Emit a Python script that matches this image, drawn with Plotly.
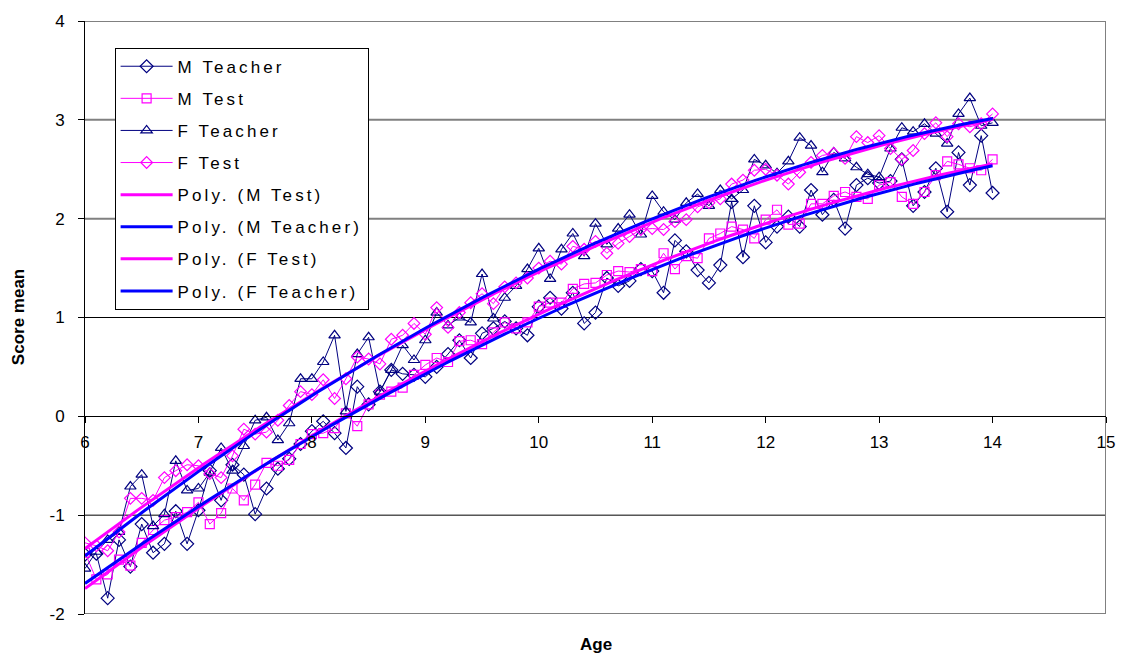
import numpy as np
import plotly.graph_objects as go

ages = [6.0, 6.1, 6.2, 6.3, 6.4, 6.5, 6.6, 6.7, 6.8, 6.9,
        7.0, 7.1, 7.2, 7.3, 7.4, 7.5, 7.6, 7.7, 7.8, 7.9,
        8.0, 8.1, 8.2, 8.3, 8.4, 8.5, 8.6, 8.7, 8.8, 8.9,
        9.0, 9.1, 9.2, 9.3, 9.4, 9.5, 9.6, 9.7, 9.8, 9.9,
        10.0, 10.1, 10.2, 10.3, 10.4, 10.5, 10.6, 10.7, 10.8, 10.9,
        11.0, 11.1, 11.2, 11.3, 11.4, 11.5, 11.6, 11.7, 11.8, 11.9,
        12.0, 12.1, 12.2, 12.3, 12.4, 12.5, 12.6, 12.7, 12.8, 12.9,
        13.0, 13.1, 13.2, 13.3, 13.4, 13.5, 13.6, 13.7, 13.8, 13.9,
        14.0]

m_teacher = [-1.40, -1.39, -1.84, -1.25, -1.52, -1.09, -1.38, -1.29, -0.96, -1.29,
             -0.95, -0.55, -0.85, -0.49, -0.59, -0.99, -0.73, -0.53, -0.43, -0.28,
             -0.15, -0.05, -0.17, -0.32, 0.30, 0.12, 0.25, 0.47, 0.43, 0.42,
             0.40, 0.50, 0.63, 0.77, 0.59, 0.84, 0.89, 0.96, 0.89, 0.82,
             1.11, 1.20, 1.09, 1.25, 0.94, 1.05, 1.40, 1.32, 1.37, 1.49,
             1.47, 1.25, 1.78, 1.67, 1.48, 1.35, 1.53, 2.17, 1.61, 2.13,
             1.76, 1.92, 2.02, 1.92, 2.29, 2.04, 2.19, 1.90, 2.34, 2.41,
             2.36, 2.38, 2.60, 2.13, 2.27, 2.51, 2.07, 2.67, 2.34, 2.84,
             2.26]

m_test = [-1.38, -1.65, -1.60, -1.45, -1.51, -1.28, -1.15, -1.05, -1.02, -0.97,
          -0.87, -1.09, -0.98, -0.73, -0.85, -0.69, -0.47, -0.50, -0.44, -0.28,
          -0.18, -0.17, -0.12, 0.03, -0.10, 0.12, 0.22, 0.25, 0.29, 0.42,
          0.52, 0.59, 0.55, 0.76, 0.77, 0.73, 0.85, 0.95, 0.89, 0.95,
          1.11, 1.15, 1.15, 1.29, 1.34, 1.35, 1.43, 1.47, 1.46, 1.49,
          1.47, 1.65, 1.49, 1.62, 1.60, 1.80, 1.85, 1.92, 1.89, 1.80,
          1.99, 2.09, 1.94, 1.95, 2.15, 2.15, 2.23, 2.27, 2.22, 2.20,
          2.34, 2.37, 2.22, 2.15, 2.27, 2.44, 2.58, 2.55, 2.51, 2.49,
          2.60]

f_teacher = [-1.54, -1.37, -1.25, -1.17, -0.71, -0.59, -1.11, -0.99, -0.45, -0.75,
             -0.73, -0.57, -0.32, -0.55, -0.30, -0.04, -0.01, -0.24, -0.07, 0.38,
             0.38, 0.55, 0.82, 0.05, 0.63, 0.80, 0.25, 0.47, 0.72, 0.57,
             0.77, 1.05, 0.92, 1.00, 0.95, 1.44, 0.99, 1.20, 1.32, 1.49,
             1.70, 1.39, 1.69, 1.85, 1.62, 1.95, 1.74, 1.90, 2.04, 1.84,
             2.23, 2.07, 1.99, 2.16, 2.25, 2.13, 2.29, 2.20, 2.29, 2.60,
             2.54, 2.46, 2.58, 2.82, 2.74, 2.47, 2.67, 2.61, 2.52, 2.45,
             2.42, 2.71, 2.92, 2.88, 2.96, 2.86, 2.76, 3.06, 3.22, 2.94,
             2.97]

f_test = [-1.28, -1.31, -1.36, -1.17, -0.83, -0.83, -0.85, -0.62, -0.55, -0.49,
          -0.50, -0.58, -0.62, -0.40, -0.13, -0.18, -0.16, -0.04, 0.11, 0.25,
          0.22, 0.37, 0.18, 0.38, 0.60, 0.58, 0.53, 0.78, 0.82, 0.94,
          0.83, 1.10, 0.90, 1.05, 1.15, 1.24, 1.14, 1.31, 1.35, 1.40,
          1.50, 1.57, 1.54, 1.72, 1.69, 1.77, 1.65, 1.75, 1.82, 1.89,
          1.90, 1.89, 1.97, 1.99, 2.12, 2.16, 2.20, 2.35, 2.39, 2.49,
          2.50, 2.44, 2.35, 2.47, 2.57, 2.64, 2.66, 2.61, 2.83, 2.77,
          2.84, 2.71, 2.60, 2.69, 2.86, 2.97, 2.83, 2.96, 2.93, 2.96,
          3.06]

y_ticks = [-2, -1, 0, 1, 2, 3, 4]
x_ticks = [6, 7, 8, 9, 10, 11, 12, 13, 14, 15]

NAVY = "#000080"
MAGENTA = "#FF00FF"
BLUE = "#0000FF"
FONT = "Liberation Sans, Arial, sans-serif"


def lbl(s):
    return f'<span style="letter-spacing:3.1px">{s}</span>'


fig = go.Figure()

series = [
    ("M Teacher", m_teacher, NAVY, "diamond-open", 10),
    ("M Test", m_test, MAGENTA, "square-open", 9),
    ("F Teacher", f_teacher, NAVY, "triangle-up-open", 10),
    ("F Test", f_test, MAGENTA, "diamond-open", 9),
]
for i, (name, vals, col, sym, sz) in enumerate(series):
    fig.add_trace(go.Scatter(
        x=ages, y=vals, mode="lines+markers", name=lbl(name),
        line=dict(color=col, width=1),
        marker=dict(symbol=sym, size=sz, color=col, line=dict(width=1.2, color=col)),
        legendgroup=f"g{i}", showlegend=True,
    ))

xa = np.array(ages)
xs = np.linspace(xa.min(), xa.max(), 200)
trends = [
    ("Poly. (M Test)", m_test, MAGENTA),
    ("Poly. (M Teacher)", m_teacher, BLUE),
    ("Poly. (F Test)", f_test, MAGENTA),
    ("Poly. (F Teacher)", f_teacher, BLUE),
]
for j, (name, vals, col) in enumerate(trends):
    coef = np.polyfit(xa, np.array(vals), 2)
    fig.add_trace(go.Scatter(
        x=xs, y=np.polyval(coef, xs), mode="lines", name=lbl(name),
        line=dict(color=col, width=3),
        legendgroup=f"t{j}", hoverinfo="skip",
    ))

shapes = []
for yv, c, w in [(1, "#000000", 1), (-1, "#000000", 1), (2, "#808080", 2), (3, "#808080", 2),
                 (4, "#808080", 2), (-2, "#808080", 2)]:
    shapes.append(dict(type="line", xref="x", yref="y", x0=6, x1=15, y0=yv, y1=yv,
                       line=dict(color=c, width=w), layer="below"))
shapes.append(dict(type="line", xref="x", yref="y", x0=15, x1=15, y0=-2, y1=4,
                   line=dict(color="#808080", width=2), layer="below"))

fig.update_layout(
    width=1127, height=662, autosize=False,
    margin=dict(l=85, r=14, t=15, b=48),
    paper_bgcolor="white", plot_bgcolor="white",
    font=dict(family=FONT, color="black", size=16),
    showlegend=True,
    legend=dict(
        x=0.029, y=0.955, xanchor="left", yanchor="top",
        bgcolor="white", bordercolor="black", borderwidth=1,
        font=dict(family=FONT, size=17, color="black"),
        itemwidth=52, tracegroupgap=7,
    ),
    xaxis=dict(
        range=[6, 15], tickvals=x_ticks, ticktext=[str(v) for v in x_ticks],
        anchor="free", position=1/3,
        showline=True, linecolor="black", linewidth=1,
        ticks="outside", ticklen=6, tickcolor="black",
        showgrid=False, zeroline=False, ticklabelstandoff=4,
        tickfont=dict(family=FONT, size=17, color="black"),
    ),
    yaxis=dict(
        range=[-2, 4], tickvals=y_ticks, ticktext=[str(v) for v in y_ticks],
        showline=True, linecolor="black", linewidth=1,
        ticks="outside", ticklen=6, tickcolor="black",
        showgrid=False, zeroline=True, zerolinecolor="black", zerolinewidth=1,
        ticklabelstandoff=10,
        tickfont=dict(family=FONT, size=17, color="black"),
    ),
    shapes=shapes,
    annotations=[
        dict(text="<b>Score mean</b>", xref="paper", yref="paper", x=-0.065, y=0.5,
             textangle=-90, showarrow=False, font=dict(family=FONT, size=17, color="black"),
             xanchor="center", yanchor="middle"),
        dict(text="<b>Age</b>", xref="paper", yref="paper", x=0.5, y=-0.052,
             showarrow=False, font=dict(family=FONT, size=17, color="black"),
             xanchor="center", yanchor="middle"),
    ],
)

fig.write_html("out.html")
